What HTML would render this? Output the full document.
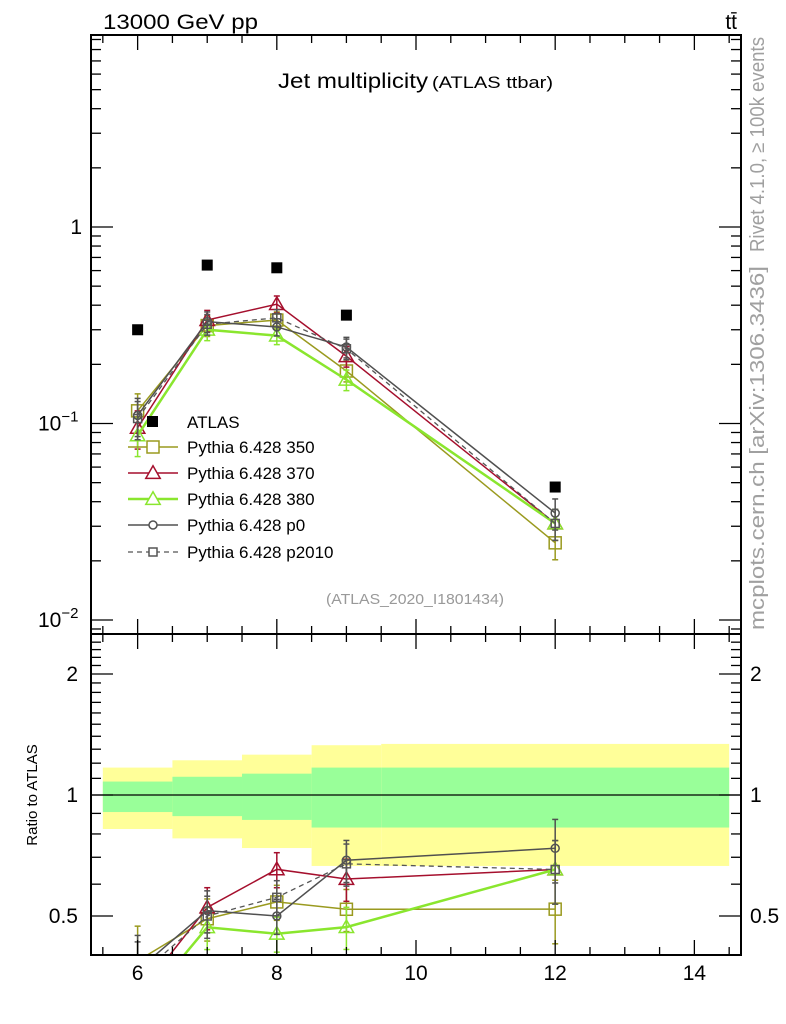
<!DOCTYPE html>
<html><head><meta charset="utf-8">
<style>
html,body{margin:0;padding:0;background:#fff;}
svg{display:block;font-family:"Liberation Sans",sans-serif;}
</style></head>
<body>
<svg id="chart" width="786" height="1024" viewBox="0 0 786 1024">
</svg>
<script>
// ---- data ----
const xCats = [6, 7, 8, 9, 12];
const atlasVals = [0.30, 0.64, 0.62, 0.356, 0.0475];
const atlasBinLo = [5.5, 6.5, 7.5, 8.5, 9.5];
const atlasBinHi = [6.5, 7.5, 8.5, 9.5, 14.5];
const bandInnerUp = [1.08, 1.11, 1.13, 1.17, 1.17];
const bandInnerDn = [0.907, 0.886, 0.867, 0.83, 0.83];
const bandOuterUp = [1.17, 1.22, 1.26, 1.33, 1.34];
const bandOuterDn = [0.823, 0.78, 0.738, 0.666, 0.666];
const s350 = [0.116, 0.315, 0.336, 0.185, 0.0247];
const s370 = [0.095, 0.336, 0.405, 0.22, 0.031];
const s380 = [0.087, 0.30, 0.28, 0.167, 0.031];
const sp0 = [0.11, 0.33, 0.31, 0.245, 0.035];
const sp2010 = [0.106, 0.32, 0.345, 0.24, 0.031];
const relErr = [0.22, 0.12, 0.10, 0.12, 0.18];
const xTicks = [6, 8, 10, 12, 14];
const ratioTicks = [0.5, 1, 2];

// ---- axes ----
const L = 91, R = 741, T = 35, MID = 634, B = 955;
const xMin = 5.33, xMax = 14.67;
function X(v){ return L + (v - xMin) / (xMax - xMin) * (R - L); }
function Y(v){ return 227 - Math.log10(v) * 196.5; }
function YR(v){ return 795 - Math.log2(v) * 121; }

const svg = document.getElementById('chart');
const NS = 'http://www.w3.org/2000/svg';
function mk(tag, attrs, parent){
  const e = document.createElementNS(NS, tag);
  for (const k in attrs) e.setAttribute(k, attrs[k]);
  (parent || svg).appendChild(e);
  return e;
}
function txt(s, attrs){ const e = mk('text', attrs); e.textContent = s; return e; }

const defs = mk('defs', {});
const c1 = mk('clipPath', {id: 'cm'}, defs); mk('rect', {x: L, y: T, width: R - L, height: MID - T}, c1);
const c2 = mk('clipPath', {id: 'cr'}, defs); mk('rect', {x: L, y: MID, width: R - L, height: B - MID}, c2);

const gBand = mk('g', {'clip-path': 'url(#cr)'});


for (let i = 0; i < xCats.length; i++){
  const y1 = mk('rect', {x: X(atlasBinLo[i]), y: YR(bandOuterUp[i]), width: X(atlasBinHi[i]) - X(atlasBinLo[i]), height: YR(bandOuterDn[i]) - YR(bandOuterUp[i]), fill: '#ffff99'}, gBand);
  
  
  const g1 = mk('rect', {x: X(atlasBinLo[i]), y: YR(bandInnerUp[i]), width: X(atlasBinHi[i]) - X(atlasBinLo[i]), height: YR(bandInnerDn[i]) - YR(bandInnerUp[i]), fill: '#99ff99'}, gBand);
  
  
}
mk('line', {x1: L, x2: R, y1: YR(1), y2: YR(1), stroke: '#000', 'stroke-width': 1.3});

const series = [
  {name: 'Pythia 6.428 350', key: 'series-350', vals: s350, col: '#9a9a1f', w: 1.5, marker: 'square', size: 12, dash: null},
  {name: 'Pythia 6.428 370', key: 'series-370', vals: s370, col: '#a50f2d', w: 1.5, marker: 'tri', size: 12, dash: null},
  {name: 'Pythia 6.428 380', key: 'series-380', vals: s380, col: '#8ae62e', w: 2.5, marker: 'tri', size: 12, dash: null},
  {name: 'Pythia 6.428 p0', key: 'series-p0', vals: sp0, col: '#505050', w: 1.5, marker: 'circle', size: 8, dash: null},
  {name: 'Pythia 6.428 p2010', key: 'series-p2010', vals: sp2010, col: '#555', w: 1.3, marker: 'square', size: 8, dash: '5,4'}
];
function marker(g, type, cx, cy, s, col){
  let e;
  if (type === 'square') e = mk('rect', {x: cx - s/2, y: cy - s/2, width: s, height: s, fill: 'none', stroke: col, 'stroke-width': 1.5}, g);
  else if (type === 'circle') e = mk('circle', {cx: cx, cy: cy, r: s/2, fill: 'none', stroke: col, 'stroke-width': 1.5}, g);
  else e = mk('polygon', {points: `${cx},${cy - s*0.6} ${cx - s*0.6},${cy + s*0.45} ${cx + s*0.6},${cy + s*0.45}`, fill: 'none', stroke: col, 'stroke-width': 1.5}, g);
  return e;
}
function drawSeries(clip, yf, getV){
  series.forEach(s => {
    const g = mk('g', {'clip-path': clip});
    
    
    const pts = s.vals.map((v, i) => [X(xCats[i]), yf(getV(v, i))]);
    const pl = mk('polyline', {points: pts.map(p => p.join(',')).join(' '), fill: 'none', stroke: s.col, 'stroke-width': s.w}, g);
    if (s.dash) pl.setAttribute('stroke-dasharray', s.dash);
    s.vals.forEach((v, i) => {
      const val = getV(v, i);
      const cx = X(xCats[i]);
      const yu = yf(val * (1 + relErr[i])), yd = yf(val * (1 - relErr[i]));
      mk('line', {x1: cx, x2: cx, y1: yu, y2: yd, stroke: s.col, 'stroke-width': 1.5}, g);
      mk('line', {x1: cx - 3, x2: cx + 3, y1: yu, y2: yu, stroke: s.col, 'stroke-width': 1.5}, g);
      mk('line', {x1: cx - 3, x2: cx + 3, y1: yd, y2: yd, stroke: s.col, 'stroke-width': 1.5}, g);
      const m = marker(g, s.marker, cx, yf(val), s.size, s.col);
      
      
    });
  });
}
drawSeries('url(#cm)', Y, v => v);
drawSeries('url(#cr)', YR, (v, i) => v / atlasVals[i]);

const gA = mk('g', {});


atlasVals.forEach((v, i) => {
  const r = mk('rect', {x: X(xCats[i]) - 5.5, y: Y(v) - 5.5, width: 11, height: 11, fill: '#000'}, gA);
  
  
});

mk('rect', {x: L, y: T, width: R - L, height: B - T, fill: 'none', stroke: '#000', 'stroke-width': 2});
mk('line', {x1: L, x2: R, y1: MID, y2: MID, stroke: '#000', 'stroke-width': 2});

for (let v = 5.5; v <= 14.5; v += 0.5){
  const major = Math.abs(v % 2) < 1e-9;
  const len = major ? 15 : 8;
  const x = X(v);
  [T, MID].forEach(y0 => mk('line', {x1: x, x2: x, y1: y0, y2: y0 + len, stroke: '#000', 'stroke-width': 1.3}));
  [MID, B].forEach(y0 => mk('line', {x1: x, x2: x, y1: y0, y2: y0 - len, stroke: '#000', 'stroke-width': 1.3}));
}
xTicks.forEach(v => {
  const t = txt(String(v), {x: X(v), y: 980, 'font-size': 21, 'text-anchor': 'middle'});
  
  
});

for (let d = -3; d <= 1; d++){
  for (let m = 1; m <= 9; m++){
    const v = m * Math.pow(10, d);
    const y = Y(v);
    if (y < T || y > MID) continue;
    const len = m === 1 ? 22 : 10;
    mk('line', {x1: L, x2: L + len, y1: y, y2: y, stroke: '#000', 'stroke-width': 1.3});
    mk('line', {x1: R, x2: R - len, y1: y, y2: y, stroke: '#000', 'stroke-width': 1.3});
  }
}
const yl1 = txt('1', {x: 82, y: Y(1) + 7, 'font-size': 21, 'text-anchor': 'end'});


[[0.1, '−1'], [0.01, '−2']].forEach(([v, e]) => {
  const t = mk('text', {x: 38, y: Y(v) + 7, 'font-size': 21});
  
  
  t.innerHTML = '10<tspan dy="-9" font-size="15">' + e + '</tspan>';
});

for (let v = 0.4; v <= 2.5; v += 0.1){
  const y = YR(v);
  if (y < MID || y > B) continue;
  const major = ratioTicks.some(t => Math.abs(t - v) < 1e-6);
  const len = major ? 22 : 10;
  mk('line', {x1: L, x2: L + len, y1: y, y2: y, stroke: '#000', 'stroke-width': 1.3});
  mk('line', {x1: R, x2: R - len, y1: y, y2: y, stroke: '#000', 'stroke-width': 1.3});
}
ratioTicks.forEach(v => {
  const a = txt(String(v), {x: 78, y: YR(v) + 7, 'font-size': 21, 'text-anchor': 'end'});
  
  
  const b = txt(String(v), {x: 750, y: YR(v) + 7, 'font-size': 21});
  
  
});

const gL = mk('g', {});


mk('rect', {x: 147, y: 416, width: 11, height: 11, fill: '#000'}, gL);
const la = txt('ATLAS', {x: 187, y: 428, 'font-size': 17}); gL.appendChild(la);


const ly = [447, 473, 499, 525, 552];
series.forEach((s, i) => {
  const y = ly[i];
  const ln = mk('line', {x1: 128, x2: 178, y1: y, y2: y, stroke: s.col, 'stroke-width': s.w}, gL);
  if (s.dash) ln.setAttribute('stroke-dasharray', s.dash);
  const mm = marker(gL, s.marker, 153, y, s.size, s.col);
  mm.setAttribute('fill', '#fff');
  const t = txt(s.name, {x: 187, y: y + 6, 'font-size': 17}); gL.appendChild(t);
  
  
});
</script>
<svg width="786" height="1024" style="position:absolute;left:0;top:0;font-family:'Liberation Sans',sans-serif">
  <text x="103" y="29" font-size="21" textLength="155" lengthAdjust="spacingAndGlyphs">13000 GeV pp</text>
  <text x="737" y="29" font-size="21" text-anchor="end">tt̄</text>
  <text x="278" y="88" font-size="21" textLength="150" lengthAdjust="spacingAndGlyphs">Jet multiplicity</text>
  <text x="432" y="88" font-size="17" textLength="121" lengthAdjust="spacingAndGlyphs">(ATLAS ttbar)</text>
  <text x="326" y="604" font-size="15" fill="#999" textLength="178" lengthAdjust="spacingAndGlyphs">(ATLAS_2020_I1801434)</text>
  <text transform="translate(764,252) rotate(-90)" font-size="20" fill="#a0a0a0" textLength="215" lengthAdjust="spacingAndGlyphs">Rivet 4.1.0, ≥ 100k events</text>
  <text transform="translate(764,630) rotate(-90)" font-size="20" fill="#a0a0a0" textLength="364" lengthAdjust="spacingAndGlyphs">mcplots.cern.ch [arXiv:1306.3436]</text>
  <text transform="translate(37,795) rotate(-90)" font-size="15" text-anchor="middle">Ratio to ATLAS</text>
</svg>
</body></html>
